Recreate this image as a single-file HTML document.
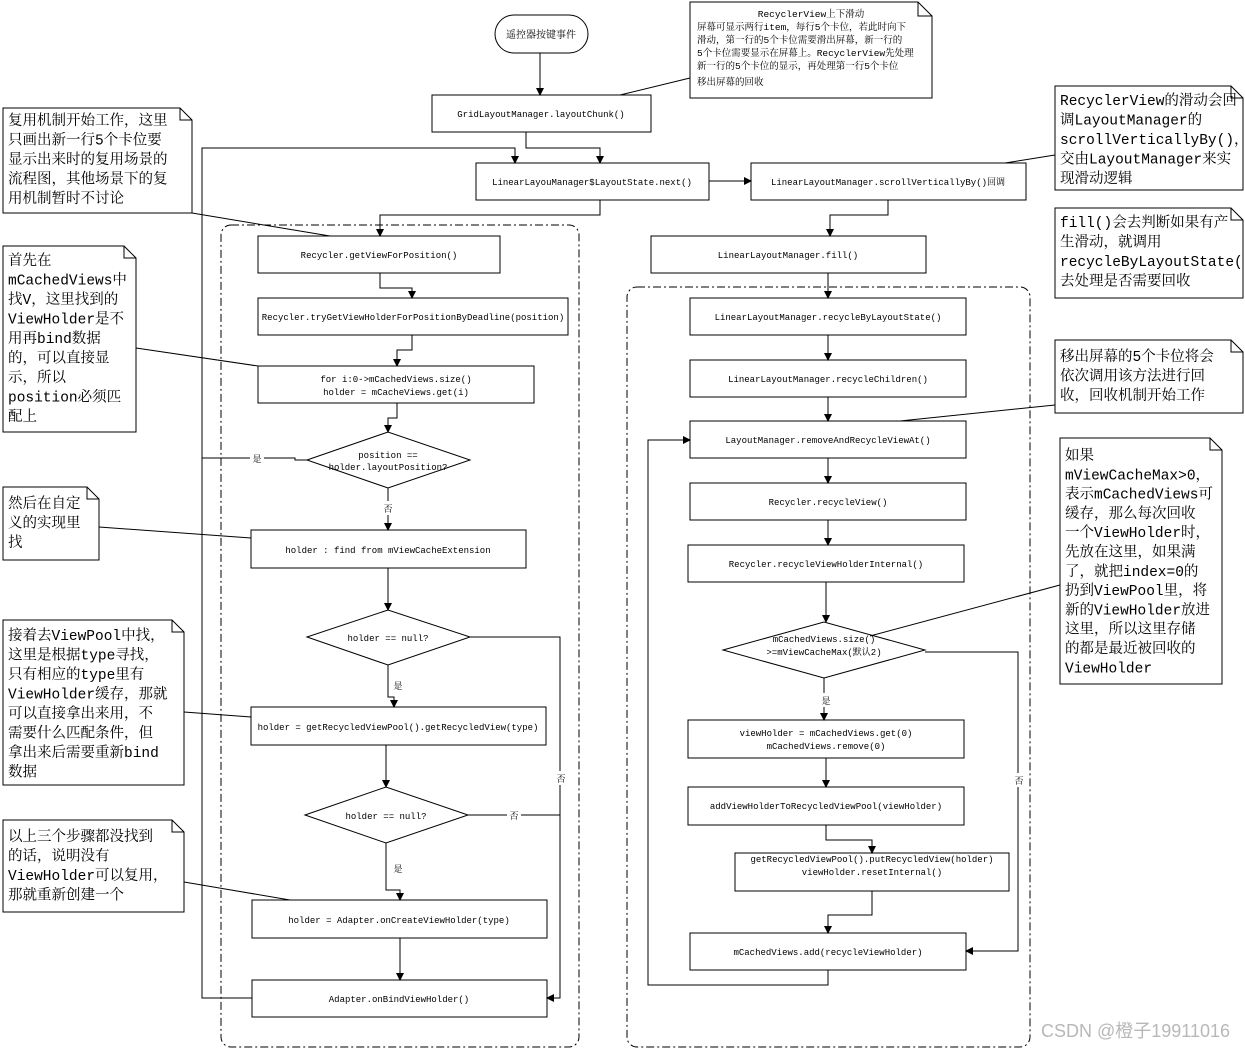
<!DOCTYPE html>
<html><head><meta charset="utf-8"><style>
html,body{margin:0;padding:0;background:#fff;}
svg{display:block;}
.b{font-family:"Liberation Mono","Noto Serif CJK SC",monospace;font-size:9px;fill:#000;}
.n{font-family:"Liberation Mono","Noto Serif CJK SC",monospace;font-size:14.5px;fill:#000;}
.s{font-family:"Liberation Mono","Noto Serif CJK SC",monospace;font-size:9.5px;fill:#000;}
</style></head><body>
<svg width="1245" height="1049" viewBox="0 0 1245 1049" xmlns="http://www.w3.org/2000/svg">
<defs><marker id="a" markerWidth="8" markerHeight="8" refX="7" refY="4" orient="auto" markerUnits="userSpaceOnUse"><path d="M0,0 L8,4 L0,8 z" fill="#000"/></marker></defs>
<g fill="none" stroke="#000" stroke-width="1">
<!-- containers -->
<rect x="221" y="225" width="358" height="822" rx="10" stroke-dasharray="8,3,2,3"/>
<rect x="627" y="287" width="403" height="760" rx="10" stroke-dasharray="8,3,2,3"/>
<!-- start -->
<rect x="495" y="15" width="93" height="38" rx="19"/>
<!-- top note -->
<path d="M690,2 H918 L932,16 V98 H690 Z M918,2 V16 H932"/>
<line x1="690" y1="78" x2="620" y2="95"/>
<!-- boxes -->
<rect x="432" y="95" width="219" height="37"/>
<rect x="476" y="163" width="233" height="37"/>
<rect x="751" y="163" width="275" height="37"/>
<rect x="651" y="236" width="275" height="37"/>
<rect x="258" y="236" width="242" height="37"/>
<rect x="258" y="298" width="310" height="37"/>
<rect x="258" y="366" width="276" height="37"/>
<polygon points="307,460 388,432 470,460 388,488"/>
<rect x="251" y="530" width="275" height="38"/>
<polygon points="307,637 388,610 470,637 388,665"/>
<rect x="251" y="707" width="295" height="38"/>
<polygon points="305,815 386,787 468,815 386,843"/>
<rect x="252" y="900" width="295" height="38"/>
<rect x="252" y="980" width="295" height="37"/>
<rect x="690" y="298" width="276" height="37"/>
<rect x="690" y="360" width="276" height="37"/>
<rect x="690" y="421" width="276" height="37"/>
<rect x="690" y="483" width="276" height="37"/>
<rect x="688" y="545" width="276" height="37"/>
<polygon points="723,650 824,622 925,650 824,678"/>
<rect x="688" y="720" width="276" height="38"/>
<rect x="688" y="787" width="276" height="38"/>
<rect x="735" y="853" width="274" height="38"/>
<rect x="690" y="933" width="276" height="37"/>
<!-- connectors -->
<path d="M540,53 V95" marker-end="url(#a)"/>
<path d="M526,132 V148 H600 V163" marker-end="url(#a)"/>
<path d="M252,998 H202 V148 H515 V163" marker-end="url(#a)"/>
<path d="M709,181 H751" marker-end="url(#a)"/>
<path d="M888,200 V215 H830 V236" marker-end="url(#a)"/>
<path d="M600,200 V215 H380 V236" marker-end="url(#a)"/>
<path d="M380,273 V288 H412 V298" marker-end="url(#a)"/>
<path d="M412,335 V350 H397 V366" marker-end="url(#a)"/>
<path d="M397,403 V418 H388 V432" marker-end="url(#a)"/>
<path d="M307,460 H295 V458 H202"/>
<path d="M388,488 V530" marker-end="url(#a)"/>
<path d="M388,568 V610" marker-end="url(#a)"/>
<path d="M470,637 H560 V998 H547" marker-end="url(#a)"/>
<path d="M388,665 V697 H394 V707" marker-end="url(#a)"/>
<path d="M386,745 V787" marker-end="url(#a)"/>
<path d="M468,815 H560"/>
<path d="M386,843 V890 H400 V900" marker-end="url(#a)"/>
<path d="M400,938 V980" marker-end="url(#a)"/>
<path d="M828,273 V298" marker-end="url(#a)"/>
<path d="M828,335 V360" marker-end="url(#a)"/>
<path d="M828,397 V421" marker-end="url(#a)"/>
<path d="M828,458 V483" marker-end="url(#a)"/>
<path d="M828,520 V545" marker-end="url(#a)"/>
<path d="M826,582 V622" marker-end="url(#a)"/>
<path d="M925,652 H1018 V951 H966" marker-end="url(#a)"/>
<path d="M824,678 V720" marker-end="url(#a)"/>
<path d="M826,758 V787" marker-end="url(#a)"/>
<path d="M826,825 V840 H872 V853" marker-end="url(#a)"/>
<path d="M872,891 V915 H828 V933" marker-end="url(#a)"/>
<path d="M828,970 V985 H648 V440 H690" marker-end="url(#a)"/>
<!-- notes -->
<path d="M3,108 H180 L192,120 V213 H3 Z M180,108 V120 H192"/>
<line x1="192" y1="213" x2="330" y2="236"/>
<path d="M3,246 H124 L136,258 V432 H3 Z M124,246 V258 H136"/>
<line x1="136" y1="348" x2="258" y2="366"/>
<path d="M3,487 H87 L99,499 V560 H3 Z M87,487 V499 H99"/>
<line x1="99" y1="527" x2="251" y2="538"/>
<path d="M3,620 H172 L184,632 V785 H3 Z M172,620 V632 H184"/>
<line x1="184" y1="712" x2="251" y2="717"/>
<path d="M3,820 H172 L184,832 V912 H3 Z M172,820 V832 H184"/>
<line x1="184" y1="882" x2="290" y2="900"/>
<path d="M1055,86 H1231 L1243,98 V190 H1055 Z M1231,86 V98 H1243"/>
<line x1="1005" y1="163" x2="1055" y2="155"/>
<path d="M1055,208 H1231 L1243,220 V298 H1055 Z M1231,208 V220 H1243"/>
<path d="M1055,340 H1231 L1243,352 V413 H1055 Z M1231,340 V352 H1243"/>
<line x1="900" y1="421" x2="1055" y2="405"/>
<path d="M1060,438 H1210 L1222,450 V684 H1060 Z M1210,438 V450 H1222"/>
<line x1="870" y1="636" x2="1060" y2="585"/>
</g>
<g class="b" text-anchor="middle">
<text x="541" y="38" font-size="10">遥控器按键事件</text>
<text x="541" y="117">GridLayoutManager.layoutChunk()</text>
<text x="592" y="185">LinearLayouManager$LayoutState.next()</text>
<text x="888" y="185">LinearLayoutManager.scrollVerticallyBy()回调</text>
<text x="788" y="258">LinearLayoutManager.fill()</text>
<text x="379" y="258">Recycler.getViewForPosition()</text>
<text x="413" y="320">Recycler.tryGetViewHolderForPositionByDeadline(position)</text>
<text x="396" y="382">for i:0-&gt;mCachedViews.size()</text>
<text x="396" y="395">holder = mCacheViews.get(i)</text>
<text x="388" y="458">position ==</text>
<text x="388" y="470">holder.layoutPosition?</text>
<text x="388" y="553">holder : find from mViewCacheExtension</text>
<text x="388" y="641">holder == null?</text>
<text x="398" y="730">holder = getRecycledViewPool().getRecycledView(type)</text>
<text x="386" y="819">holder == null?</text>
<text x="399" y="923">holder = Adapter.onCreateViewHolder(type)</text>
<text x="399" y="1002">Adapter.onBindViewHolder()</text>
<text x="828" y="320">LinearLayoutManager.recycleByLayoutState()</text>
<text x="828" y="382">LinearLayoutManager.recycleChildren()</text>
<text x="828" y="443">LayoutManager.removeAndRecycleViewAt()</text>
<text x="828" y="505">Recycler.recycleView()</text>
<text x="826" y="567">Recycler.recycleViewHolderInternal()</text>
<text x="824" y="642">mCachedViews.size()</text>
<text x="824" y="655">&gt;=mViewCacheMax(默认2)</text>
<text x="826" y="736">viewHolder = mCachedViews.get(0)</text>
<text x="826" y="749">mCachedViews.remove(0)</text>
<text x="826" y="809">addViewHolderToRecycledViewPool(viewHolder)</text>
<text x="872" y="862">getRecycledViewPool().putRecycledView(holder)</text>
<text x="872" y="875">viewHolder.resetInternal()</text>
<text x="828" y="955">mCachedViews.add(recycleViewHolder)</text>
</g>
<g class="b" font-size="10" text-anchor="middle">
<rect x="250" y="451" width="14" height="14" fill="#fff"/><text x="257" y="462">是</text>
<rect x="381" y="501" width="14" height="14" fill="#fff"/><text x="388" y="512">否</text>
<rect x="391" y="678" width="14" height="14" fill="#fff"/><text x="398" y="689">是</text>
<rect x="554" y="771" width="14" height="14" fill="#fff"/><text x="561" y="782">否</text>
<rect x="507" y="808" width="14" height="14" fill="#fff"/><text x="514" y="819">否</text>
<rect x="391" y="861" width="14" height="14" fill="#fff"/><text x="398" y="872">是</text>
<rect x="819" y="693" width="14" height="14" fill="#fff"/><text x="826" y="704">是</text>
<rect x="1012" y="773" width="14" height="14" fill="#fff"/><text x="1019" y="784">否</text>
</g>
<g class="s">
<text x="811" y="17" text-anchor="middle">RecyclerView上下滑动</text>
<text x="697" y="30">屏幕可显示两行item，每行5个卡位，若此时向下</text>
<text x="697" y="43">滑动，第一行的5个卡位需要滑出屏幕，新一行的</text>
<text x="697" y="56">5个卡位需要显示在屏幕上。RecyclerView先处理</text>
<text x="697" y="69">新一行的5个卡位的显示，再处理第一行5个卡位</text>
<text x="697" y="85">移出屏幕的回收</text>
</g>
<g class="n">
<text x="8" y="125">复用机制开始工作，这里</text><text x="8" y="144.5">只画出新一行5个卡位要</text><text x="8" y="164">显示出来时的复用场景的</text><text x="8" y="183.5">流程图，其他场景下的复</text><text x="8" y="203">用机制暂时不讨论</text>
<text x="8" y="265">首先在</text><text x="8" y="284.5">mCachedViews中</text><text x="8" y="304">找V，这里找到的</text><text x="8" y="323.5">ViewHolder是不</text><text x="8" y="343">用再bind数据</text><text x="8" y="362.5">的，可以直接显</text><text x="8" y="382">示，所以</text><text x="8" y="401.5">position必须匹</text><text x="8" y="421">配上</text>
<text x="8" y="508">然后在自定</text><text x="8" y="527.5">义的实现里</text><text x="8" y="547">找</text>
<text x="8" y="640">接着去ViewPool中找，</text><text x="8" y="659.5">这里是根据type寻找，</text><text x="8" y="679">只有相应的type里有</text><text x="8" y="698.5">ViewHolder缓存，那就</text><text x="8" y="718">可以直接拿出来用，不</text><text x="8" y="737.5">需要什么匹配条件，但</text><text x="8" y="757">拿出来后需要重新bind</text><text x="8" y="776.5">数据</text>
<text x="8" y="841">以上三个步骤都没找到</text><text x="8" y="860.5">的话，说明没有</text><text x="8" y="880">ViewHolder可以复用，</text><text x="8" y="899.5">那就重新创建一个</text>
<text x="1060" y="105">RecyclerView的滑动会回</text><text x="1060" y="124.5">调LayoutManager的</text><text x="1060" y="144">scrollVerticallyBy()，</text><text x="1060" y="163.5">交由LayoutManager来实</text><text x="1060" y="183">现滑动逻辑</text>
<text x="1060" y="227">fill()会去判断如果有产</text><text x="1060" y="246.5">生滑动，就调用</text><text x="1060" y="266">recycleByLayoutState()</text><text x="1060" y="285.5">去处理是否需要回收</text>
<text x="1060" y="361">移出屏幕的5个卡位将会</text><text x="1060" y="380.5">依次调用该方法进行回</text><text x="1060" y="400">收，回收机制开始工作</text>
<text x="1065" y="460">如果</text><text x="1065" y="479.3">mViewCacheMax&gt;0，</text><text x="1065" y="498.6">表示mCachedViews可</text><text x="1065" y="517.9">缓存，那么每次回收</text><text x="1065" y="537.2">一个ViewHolder时，</text><text x="1065" y="556.5">先放在这里，如果满</text><text x="1065" y="575.8">了，就把index=0的</text><text x="1065" y="595.1">扔到ViewPool里，将</text><text x="1065" y="614.4">新的ViewHolder放进</text><text x="1065" y="633.7">这里，所以这里存储</text><text x="1065" y="653">的都是最近被回收的</text><text x="1065" y="672.3">ViewHolder</text>
</g>
<text x="1230" y="1037" text-anchor="end" font-family="Liberation Sans,Noto Sans CJK SC,sans-serif" font-size="18" fill="#b8b8b8">CSDN @橙子19911016</text>
</svg>
</body></html>
